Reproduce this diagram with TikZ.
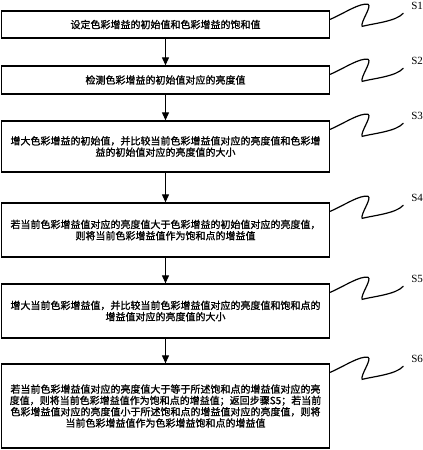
\documentclass[tikz,border=0pt]{standalone}
\usepackage{fontspec}
\setmainfont{Liberation Serif}
\newfontfamily\cjk{Noto Sans CJK SC}[FakeBold=1.2]
\usetikzlibrary{calc,arrows.meta}

\begin{document}
\begin{tikzpicture}[x=1pt,y=-1pt,
    stepbox/.style={draw,line width=1.3pt,minimum width=328pt,inner sep=2pt,
        align=center,font=\cjk\fontsize{10}{11.3}\selectfont},
    flow/.style={-{Triangle[length=8pt,width=7pt]},line width=1.1pt},
    wave/.style={line width=1.2pt,line cap=round}]
    \useasboundingbox (0,0) rectangle (423,450);
    % steps
    \node[stepbox,minimum height=27pt] (s1) at (165.5,24.5)
        {设定色彩增益的初始值和色彩增益的饱和值};
    \node[stepbox,minimum height=28pt] (s2) at (165.5,80)
        {检测色彩增益的初始值对应的亮度值};
    \node[stepbox,minimum height=51pt] (s3) at (165.5,146.5)
        {增大色彩增益的初始值，并比较当前色彩增益值对应的亮度值和色彩增\\
         益的初始值对应的亮度值的大小};
    \node[stepbox,minimum height=54pt] (s4) at (165.5,230)
        {若当前色彩增益值对应的亮度值大于色彩增益的初始值对应的亮度值，\\
         则将当前色彩增益值作为饱和点的增益值};
    \node[stepbox,minimum height=54pt] (s5) at (165.5,311)
        {增大当前色彩增益值，并比较当前色彩增益值对应的亮度值和饱和点的\\
         增益值对应的亮度值的大小};
    \node[stepbox,minimum height=84pt] (s6) at (165.5,406)
        {若当前色彩增益值对应的亮度值大于等于所述饱和点的增益值对应的亮\\
         度值，则将当前色彩增益值作为饱和点的增益值；返回步骤S5；若当前\\
         色彩增益值对应的亮度值小于所述饱和点的增益值对应的亮度值，则将\\
         当前色彩增益值作为色彩增益饱和点的增益值};
    % arrows
    \foreach \a/\b in {s1/s2,s2/s3,s3/s4,s4/s5,s5/s6}
        \draw[flow] (\a) -- (\b);
    % step labels
    \foreach \n in {1,...,6} {
        \begin{scope}[shift={(s\n.north east)}]
            \draw[wave] (0,9) .. controls (14,3) and (30,-8) .. (38,-6)
                .. controls (42,-4) and (30,12) .. (32,16)
                .. controls (44,13) and (66,11) .. (73,3);
            \node[font=\fontsize{11}{13}\selectfont] (l\n) at (87,-4) {S\n};
        \end{scope}
    }
\end{tikzpicture}
\end{document}
